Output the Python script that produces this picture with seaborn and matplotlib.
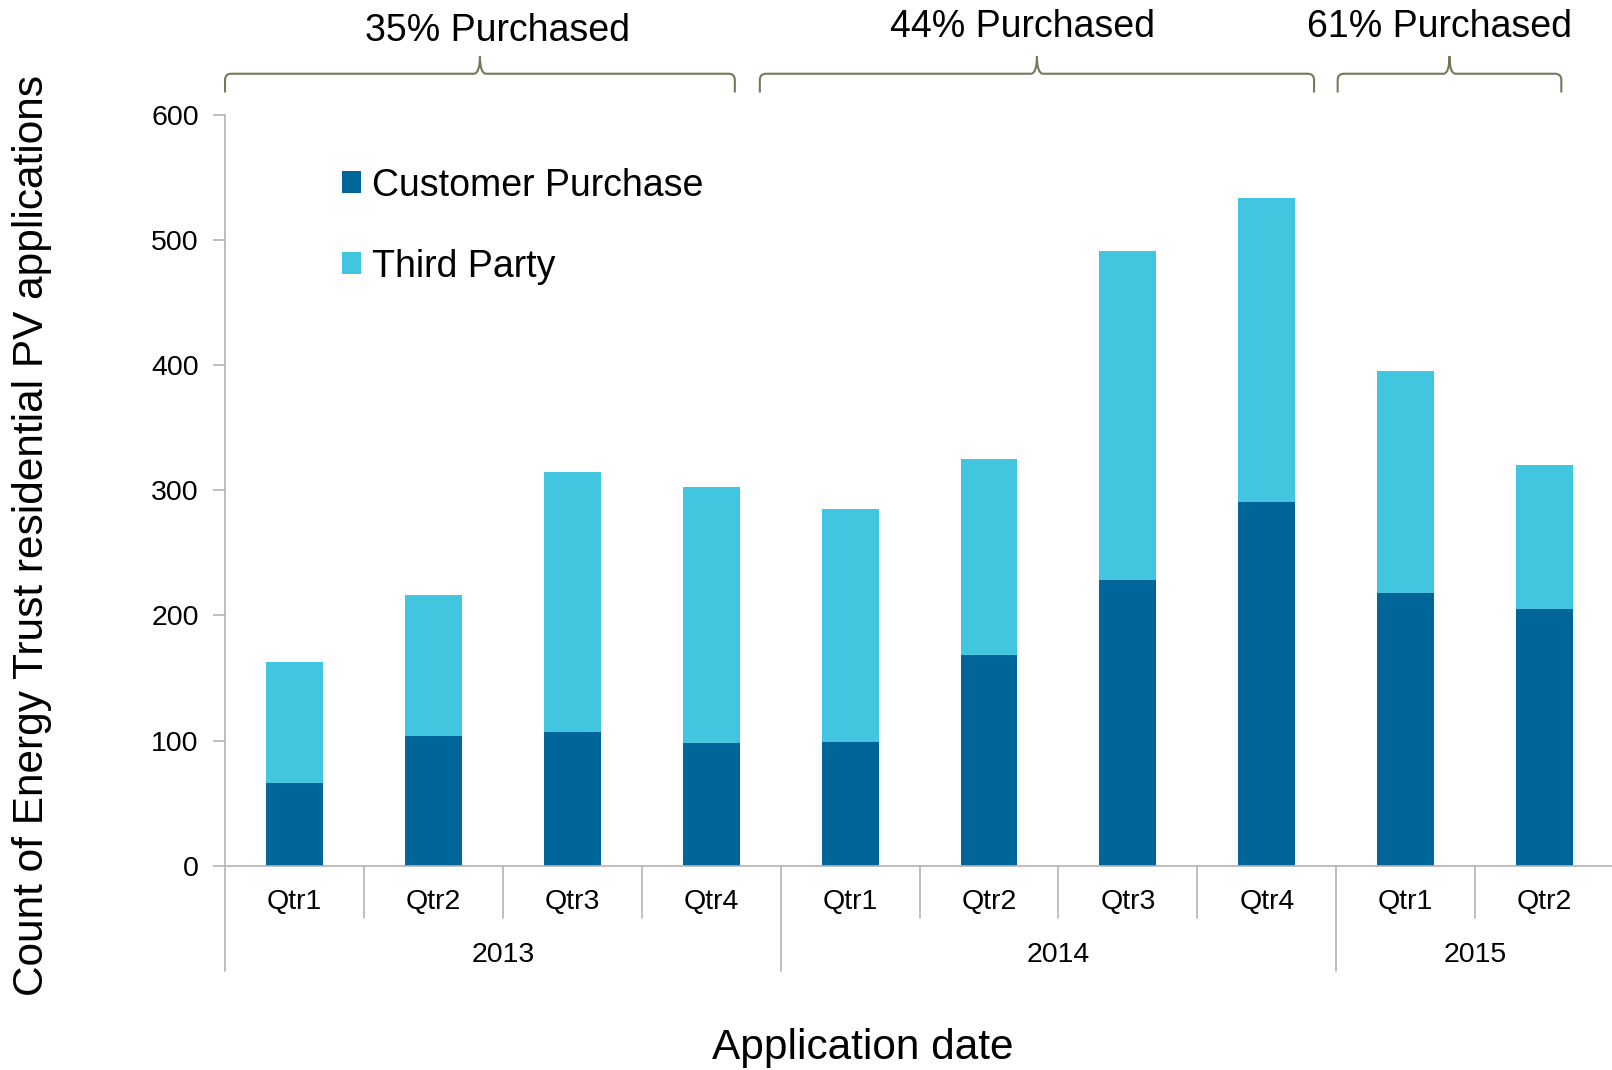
import numpy as np
import pandas as pd
import matplotlib
matplotlib.use("Agg")
import matplotlib.pyplot as plt
from matplotlib.patches import Patch, PathPatch
from matplotlib.path import Path
import matplotlib.transforms as mtransforms
import seaborn as sns

# ── DATA ────────────────────────────────────────────────────────────────────
years     = ["2013", "2013", "2013", "2013", "2014", "2014", "2014", "2014", "2015", "2015"]
quarters  = ["Qtr1", "Qtr2", "Qtr3", "Qtr4", "Qtr1", "Qtr2", "Qtr3", "Qtr4", "Qtr1", "Qtr2"]
customer  = [66, 104, 107, 98, 99, 168, 228, 291, 218, 205]
third     = [97, 112, 208, 205, 186, 157, 263, 243, 177, 115]
year_names   = ["2013", "2014", "2015"]
brace_labels = ["35% Purchased", "44% Purchased", "61% Purchased"]
y_ticks   = [0, 100, 200, 300, 400, 500, 600]

# ── STYLE ───────────────────────────────────────────────────────────────────
DARK   = "#00669a"
LIGHT  = "#42c5df"
GRID   = "#b4b4b4"
BRACE  = "#77775a"
FONT   = ["Liberation Sans", "DejaVu Sans"]

sns.set_style("white")
plt.rcParams["font.family"] = FONT
plt.rcParams["text.color"] = "black"
plt.rcParams["xtick.labelcolor"] = "black"
plt.rcParams["ytick.labelcolor"] = "black"

df = pd.DataFrame({"year": years, "quarter": quarters,
                   "customer": customer, "third": third})
df["key"]   = df["year"] + " " + df["quarter"]
df["total"] = df["customer"] + df["third"]

fig = plt.figure(figsize=(16.12, 10.70), dpi=100)
ax  = fig.add_axes([0.1396, 0.191, 0.8617, 0.7015])

sns.barplot(data=df, x="key", y="total", color=LIGHT, saturation=1,
            width=0.41, errorbar=None, linewidth=0, ax=ax)
sns.barplot(data=df, x="key", y="customer", color=DARK, saturation=1,
            width=0.41, errorbar=None, linewidth=0, ax=ax)

ax.set_xlim(-0.5, len(df) - 0.5)
ax.set_ylim(0, 600)
ax.set_yticks(y_ticks)
ax.set_yticklabels([str(v) for v in y_ticks], fontsize=20.5)
ax.tick_params(axis="y", length=9, width=1.2, color=GRID, pad=10, left=True)
ax.set_xticks(range(len(df)))
ax.set_xticklabels(df["quarter"], fontsize=20.5)
ax.tick_params(axis="x", length=0, pad=17)
ax.set_xlabel("")
ax.set_ylabel("")
for side in ["top", "right"]:
    ax.spines[side].set_visible(False)
for side in ["left", "bottom"]:
    ax.spines[side].set_color(GRID)
    ax.spines[side].set_linewidth(1.2)

# ── MULTI-LEVEL X AXIS ──────────────────────────────────────────────────────
trans = mtransforms.blended_transform_factory(ax.transData, ax.transAxes)
for i in range(len(df)):
    xb = i - 0.5
    new_year = i == 0 or years[i] != years[i - 1]
    depth = -0.141 if new_year else -0.0698
    ax.plot([xb, xb], [0, depth], color=GRID, lw=1.2, transform=trans, clip_on=False)

for yname in year_names:
    idx = [i for i, y in enumerate(years) if y == yname]
    ax.text(np.mean(idx), -0.119, yname, transform=trans, ha="center", va="center",
            fontsize=20.5)

fig.text(0.535, 0.021, "Application date", ha="center", va="center", fontsize=30.5)
fig.text(0.020, 0.5, "Count of Energy Trust residential PV applications",
         rotation=90, ha="center", va="center", fontsize=30.5)

# ── LEGEND ──────────────────────────────────────────────────────────────────
handles = [Patch(facecolor=DARK, edgecolor="none", label="Customer Purchase"),
           Patch(facecolor=LIGHT, edgecolor="none", label="Third Party")]
ax.legend(handles=handles, loc="upper left", bbox_to_anchor=(0.084, 0.93),
          frameon=False, fontsize=27, handlelength=0.52, handleheight=0.52,
          handletextpad=0.28, labelspacing=1.2, borderpad=0, borderaxespad=0)

# ── BRACES ──────────────────────────────────────────────────────────────────
def draw_brace(ax, x0, x1, y, h_end, h_tip, rx=0.045, ry=5):
    xm = (x0 + x1) / 2
    verts = [(x0, y - h_end), (x0, y - ry),
             (x0, y), (x0 + rx, y),
             (xm - rx, y),
             (xm, y), (xm, y + h_tip),
             (xm, y), (xm + rx, y),
             (x1 - rx, y),
             (x1, y), (x1, y - ry),
             (x1, y - h_end)]
    codes = [Path.MOVETO, Path.LINETO,
             Path.CURVE3, Path.CURVE3,
             Path.LINETO,
             Path.CURVE3, Path.CURVE3,
             Path.CURVE3, Path.CURVE3,
             Path.LINETO,
             Path.CURVE3, Path.CURVE3,
             Path.LINETO]
    ax.add_patch(PathPatch(Path(verts, codes), facecolor="none", edgecolor=BRACE,
                           lw=1.5, transform=ax.transData, clip_on=False))

brace_spans = [(-0.5, 3.17), (3.35, 7.34), (7.51, 9.12)]
label_pos   = [(1.458, 667), (5.24, 670), (8.246, 670)]
for (x0, x1), (tx, ty), label in zip(brace_spans, label_pos, brace_labels):
    draw_brace(ax, x0, x1, 633, 15, 14)
    ax.text(tx, ty, label, ha="center", va="center", fontsize=27, clip_on=False)

fig.savefig("out.png", dpi=100)
